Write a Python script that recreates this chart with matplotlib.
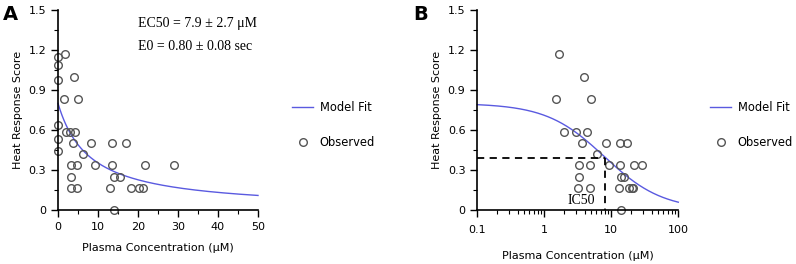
import numpy as np
import matplotlib
matplotlib.use("Agg")
import matplotlib.pyplot as plt
from matplotlib.ticker import MultipleLocator, LogLocator, NullFormatter

# Observed data (plasma concentration uM, heat response score)
conc = [0, 0, 0, 0, 0, 0,
        1.67, 3.9, 1.5, 4.9,
        1.97, 2.97, 4.34,
        3.65, 8.3, 13.5, 17.1,
        6.2,
        3.25, 4.75, 9.2, 13.6, 21.8, 29.0,
        3.25, 13.9, 15.5,
        3.15, 4.75, 12.9, 18.2, 20.2, 21.3,
        13.9]
score = [1.145, 1.087, 0.975, 0.64, 0.53, 0.445,
         1.17, 1.0, 0.835, 0.835,
         0.585, 0.585, 0.585,
         0.5, 0.5, 0.5, 0.5,
         0.417,
         0.335, 0.335, 0.335, 0.335, 0.335, 0.335,
         0.25, 0.25, 0.25,
         0.167, 0.167, 0.167, 0.167, 0.167, 0.167,
         0.0]

E0 = 0.80
EC50 = 7.9
IC50_line_y = 0.392
IC50_line_x = 8.0

conc = np.array(conc)
score = np.array(score)

W, H = 796, 264
fig = plt.figure(figsize=(W / 100, H / 100), dpi=100)

line_color = '#5a5ae0'
mk_color = '#555555'
tick_fs = 8
lab_fs = 8
leg_fs = 8.3


def px_axes(x0, x1, ytop, ybot):
    return fig.add_axes([x0 / W, 1 - ybot / H, (x1 - x0) / W, (ybot - ytop) / H])


def style(ax, xpad):
    for s in ['top', 'right']:
        ax.spines[s].set_visible(False)
    ax.spines['left'].set_linewidth(1.2)
    ax.spines['bottom'].set_linewidth(1.2)
    ax.tick_params(which='major', direction='out', length=5, width=1, labelsize=tick_fs)
    ax.tick_params(which='minor', direction='out', length=3, width=0.8)
    ax.set_ylim(0, 1.5)
    ax.yaxis.set_minor_locator(MultipleLocator(0.15))
    ax.set_yticks([0, 0.3, 0.6, 0.9, 1.2, 1.5])
    ax.set_yticklabels(['0', '0.3', '0.6', '0.9', '1.2', '1.5'])
    ax.set_ylabel('Heat Response Score', fontsize=lab_fs)
    ax.set_xlabel('Plasma Concentration (\u03bcM)', fontsize=lab_fs, labelpad=xpad)


def legend(ax, x0):
    ax.legend(loc='upper left', bbox_to_anchor=(x0 / W, 1 - 101 / H), bbox_transform=fig.transFigure,
              frameon=False, fontsize=leg_fs, handlelength=1.85, labelspacing=1.95,
              handletextpad=0.55, borderaxespad=0, borderpad=0)


# Panel A
axA = px_axes(58, 258, 10, 210)
style(axA, 8)
xa = np.linspace(0, 50, 300)
axA.plot(xa, E0 * EC50 / (EC50 + xa), color=line_color, lw=1, label='Model Fit', clip_on=False)
axA.plot(conc, score, 'o', ms=5.5, mfc='none', mec=mk_color, mew=1, label='Observed', clip_on=False)
axA.set_xlim(0, 50)
axA.xaxis.set_major_locator(MultipleLocator(10))
axA.xaxis.set_minor_locator(MultipleLocator(5))
axA.text(0.40, 0.93, 'EC50 = 7.9 \u00b1 2.7 \u03bcM', transform=axA.transAxes,
         family='Liberation Serif', fontsize=10, va='center', ha='left')
axA.text(0.40, 0.82, 'E0 = 0.80 \u00b1 0.08 sec', transform=axA.transAxes,
         family='Liberation Serif', fontsize=10, va='center', ha='left')
legend(axA, 292)
fig.text(3 / W, 1 - 14 / H, 'A', fontsize=14, fontweight='bold', va='center', ha='left')

# Panel B
axB = px_axes(477.3, 678.3, 10, 210)
style(axB, 11)
axB.set_xscale('log')
xb = np.logspace(-1, 2, 300)
axB.plot(xb, E0 * EC50 / (EC50 + xb), color=line_color, lw=1, label='Model Fit', clip_on=False)
pos = conc > 0
axB.plot(conc[pos], score[pos], 'o', ms=5.5, mfc='none', mec=mk_color, mew=1, label='Observed', clip_on=False)
axB.set_xlim(0.1, 100)
axB.set_xticks([0.1, 1, 10, 100])
axB.set_xticklabels(['0.1', '1', '10', '100'])
axB.xaxis.set_minor_locator(LogLocator(base=10, subs=np.arange(2, 10)))
axB.xaxis.set_minor_formatter(NullFormatter())
axB.tick_params(axis='x', which='major', pad=6)
axB.plot([0.1, IC50_line_x], [IC50_line_y, IC50_line_y], 'k--', lw=1.3, dashes=(4, 3))
axB.plot([IC50_line_x, IC50_line_x], [IC50_line_y, 0], 'k--', lw=1.3, dashes=(4, 3))
axB.annotate('IC50', xy=(IC50_line_x, 0.0), xytext=(-7, 2), textcoords='offset points',
             family='Liberation Serif', fontsize=10, ha='right', va='bottom')
legend(axB, 710)
fig.text(413 / W, 1 - 14 / H, 'B', fontsize=14, fontweight='bold', va='center', ha='left')

fig.savefig('out.png', dpi=100)
